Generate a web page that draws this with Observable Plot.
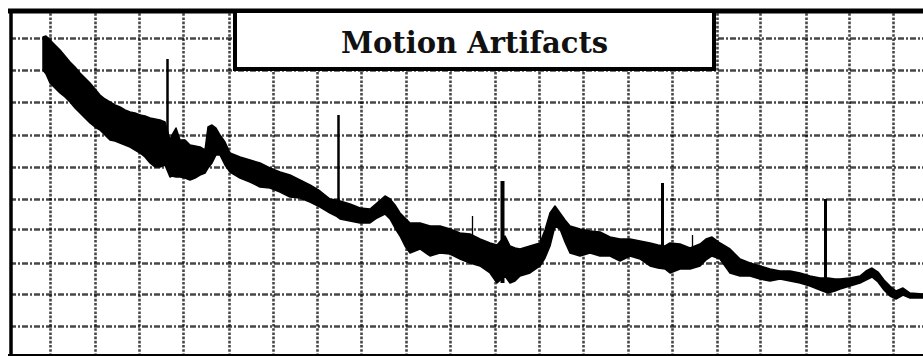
<!DOCTYPE html>
<html>
<head>
<meta charset="utf-8">
<script src="https://cdn.jsdelivr.net/npm/d3@7"></script>
<script src="https://cdn.jsdelivr.net/npm/@observablehq/plot@0.6"></script>
<style>
  html, body { margin: 0; padding: 0; background: #fff; }
  #wrap { position: relative; width: 923px; height: 356px; overflow: hidden; }
  #title {
    position: absolute; left: 233px; top: 9px; width: 483px; height: 62px;
    box-sizing: border-box; border: 4px solid #000; background: #fff;
    font-family: "DejaVu Serif", serif; font-weight: bold; font-size: 29px;
    color: #111; display: flex; align-items: center; justify-content: center;
    padding-top: 6px;
  }
</style>
</head>
<body>
<div id="wrap">
  <div id="chart"></div>
  <div id="title">Motion Artifacts</div>
</div>
<script>
// Strip geometry (time along x, amplitude up the y axis)
const frameT = [10, 923];
const frameA = [0, 343];
const frameTopA = 345.5;
const frameBottomA = 1;

// Grid lines of the chart paper
const gridT = [50, 95, 139, 183, 229, 273, 317, 361, 406, 450, 495, 539, 583, 628, 672, 717, 760, 806, 849, 893];
const gridA = [318, 286, 254, 221, 189, 157, 127, 93, 62, 30];

// Noisy trace envelope: time, upper and lower amplitude
const traceT = [43, 46, 50, 55, 60, 65, 70, 75, 80, 85, 90, 95, 100, 105, 110, 115, 120, 125, 130, 135, 140, 145, 150, 155, 160, 165,
  170, 172, 176, 180, 185, 190, 195, 200, 205, 208, 212, 216, 220, 225, 230, 240, 250, 260, 270, 280, 290, 300, 310, 320, 330, 336, 340,
  350, 360, 370, 377, 385, 390, 395, 400, 405, 410, 420, 430, 440, 450, 460, 470, 480, 490, 497,
  505, 510, 515, 520, 530, 540, 545, 550, 555, 560, 565, 570, 580, 590, 600, 610, 620, 630, 640, 650, 658,
  665, 670, 680, 690, 700, 706, 712, 720, 730, 740, 750, 760, 770, 780, 790, 800, 810, 820,
  828, 835, 840, 850, 860, 866, 872, 878, 884, 890, 896, 903, 910, 923];
const traceHi = [319, 320, 316, 311, 306, 300, 294, 289, 283, 278, 273, 267, 261, 257, 254, 251, 249, 246, 244, 243, 241, 240, 238, 237, 236, 234,
  216, 221, 228, 216, 216, 211, 210, 209, 206, 229, 231, 228, 221, 214, 203, 199, 196, 193, 188, 184, 181, 176, 171, 165, 157, 156, 155,
  152, 148, 147, 153, 160, 157, 151, 143, 138, 133, 133, 130, 130, 127, 123, 122, 117, 113, 111,
  120, 110, 108, 107, 110, 113, 126, 143, 150, 143, 136, 130, 127, 125, 124, 119, 117, 117, 115, 113, 111,
  110, 113, 112, 108, 112, 117, 119, 113, 107, 97, 93, 90, 87, 85, 85, 83, 80, 78,
  78, 77, 77, 78, 80, 85, 88, 84, 76, 70, 65, 68, 63, 62];
const traceLo = [286, 282, 273, 268, 263, 259, 254, 248, 243, 238, 233, 229, 226, 221, 216, 215, 213, 211, 209, 206, 203, 199, 193, 189, 189, 191,
  179, 180, 179, 179, 178, 176, 178, 181, 183, 188, 193, 201, 201, 191, 184, 178, 174, 169, 168, 164, 159, 158, 154, 149, 143, 140, 137,
  135, 133, 133, 138, 142, 137, 128, 120, 110, 103, 107, 100, 103, 102, 97, 93, 90, 83, 73,
  80, 73, 75, 80, 83, 90, 98, 110, 130, 127, 114, 103, 100, 103, 100, 100, 95, 100, 97, 90, 88,
  87, 83, 87, 87, 90, 96, 100, 97, 83, 80, 80, 77, 75, 77, 75, 73, 70, 66,
  63, 65, 67, 70, 73, 76, 79, 74, 66, 60, 57, 61, 58, 58];

// Sharp deflections: time, base and peak amplitude
const spikeT = [167, 338, 502, 662, 825];
const spikeBase = [191, 140, 73, 87, 65];
const spikePeak = [297, 241, 175, 173, 157];
const spikeWidth = [2.5, 2.5, 4, 3, 3];

// Small ticks riding on the trace
const tickT = [472, 540, 692];
const tickBase = [97, 113, 108];
const tickPeak = [140, 130, 121];

const trace = traceT.map((t, i) => ({t, hi: traceHi[i], lo: traceLo[i]}));
const spikes = spikeT.map((t, i) => ({t, base: spikeBase[i], peak: spikePeak[i], w: spikeWidth[i]}));
const ticks = tickT.map((t, i) => ({t, base: tickBase[i], peak: tickPeak[i]}));

const chart = Plot.plot({
  width: 923,
  height: 356,
  margin: 0,
  x: {domain: [0, 923], axis: null},
  y: {domain: [0, 356], axis: null},
  marks: [
    // chart paper grid
    Plot.ruleX(gridT, {y1: frameA[0], y2: frameA[1], stroke: "#000", strokeWidth: 2.6, strokeDasharray: "2.6,1.6", strokeOpacity: 0.72}),
    Plot.ruleY(gridA, {x1: frameT[0], x2: frameT[1], stroke: "#000", strokeWidth: 2.6, strokeDasharray: "6,2,2,2", strokeOpacity: 0.72}),
    // strip border
    Plot.ruleY([frameTopA], {x1: frameT[0] - 2, x2: frameT[1], stroke: "#000", strokeWidth: 5}),
    Plot.ruleY([frameBottomA], {x1: frameT[0] - 2, x2: frameT[1], stroke: "#000", strokeWidth: 3}),
    Plot.ruleX([frameT[0] + 0.5], {y1: frameBottomA, y2: frameTopA, stroke: "#000", strokeWidth: 3.5}),
    // recorded signal
    Plot.areaY(trace, {x: "t", y1: "lo", y2: "hi", fill: "#000", stroke: "#000", strokeWidth: 1.5}),
    Plot.ruleX(spikes, {x: "t", y1: "base", y2: "peak", stroke: "#000", strokeWidth: d => d.w}),
    Plot.ruleX(ticks, {x: "t", y1: "base", y2: "peak", stroke: "#000", strokeWidth: 1.3})
  ]
});
document.getElementById("chart").appendChild(chart);
</script>
</body>
</html>
